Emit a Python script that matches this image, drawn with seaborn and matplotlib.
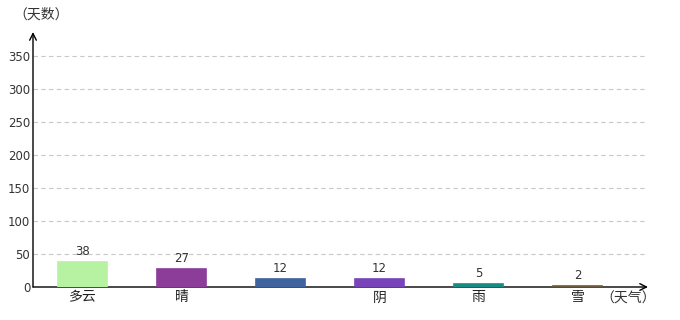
import matplotlib
matplotlib.use("Agg")
import matplotlib.pyplot as plt
import seaborn as sns
import pandas as pd

categories = ["多云", "晴", " ", "阴", "雨", "雪"]
days = [38, 27, 12, 12, 5, 2]
colors = ["#b6f2a1", "#8b3d99", "#3e639f", "#7745b9", "#178c84", "#6b5c3a"]
y_ticks = [0, 50, 100, 150, 200, 250, 300, 350]

sns.set_theme(style="white")
plt.rcParams["font.family"] = ["Noto Sans CJK SC", "DejaVu Sans"]

df = pd.DataFrame({"weather": categories, "days": days})

fig = plt.figure(figsize=(6.8, 3.2), dpi=100)
ax = fig.add_axes([33 / 680, 1 - 287 / 320, (648 - 33) / 680, (287 - 32) / 320])

sns.barplot(data=df, x="weather", y="days", hue="weather", palette=colors,
            order=categories, hue_order=categories, width=0.5, legend=False,
            saturation=1, ax=ax, zorder=3, linewidth=1.2)
for c in ax.containers:
    for p in c.patches:
        p.set_edgecolor(p.get_facecolor())

for c in ax.containers:
    ax.bar_label(c, fontsize=8.5, color="#333333", padding=3, family="DejaVu Sans")

ax.set_xlim(-0.5, 5.71)
ax.set_ylim(0, 386)
ax.set_yticks(y_ticks)
ax.set_yticklabels([str(v) for v in y_ticks], fontsize=8.5, color="#333333", family="DejaVu Sans")
ax.tick_params(axis="both", length=0, pad=2)
ax.tick_params(axis="x", labelsize=10, labelcolor="#222222", pad=2.5)
ax.set_xlabel("")
ax.set_ylabel("")

for v in y_ticks[1:]:
    ax.plot([-0.5, 5.68], [v, v], color="#c8c8c8", lw=0.8, ls=(0, (4, 3)), zorder=1)

for s in ax.spines.values():
    s.set_visible(False)

ax.annotate("", xy=(0, 1.0), xytext=(0, 0), xycoords="axes fraction",
            arrowprops=dict(arrowstyle="->", color="black", lw=1.0, shrinkA=0, shrinkB=0),
            zorder=2)
ax.annotate("", xy=(1.0, 0), xytext=(0, 0), xycoords="axes fraction",
            arrowprops=dict(arrowstyle="->", color="black", lw=1.0, shrinkA=0, shrinkB=0),
            zorder=2)

fig.text(41 / 680, 1 - 15 / 320, "（天数）", ha="center", va="center", fontsize=10,
         color="#333333", family=["Noto Sans CJK TC", "DejaVu Sans"])
fig.text(628 / 680, 1 - 299 / 320, "（天气）", ha="center", va="center", fontsize=10,
         color="#333333", family=["Noto Sans CJK TC", "DejaVu Sans"])

fig.savefig("out.png", dpi=100)
